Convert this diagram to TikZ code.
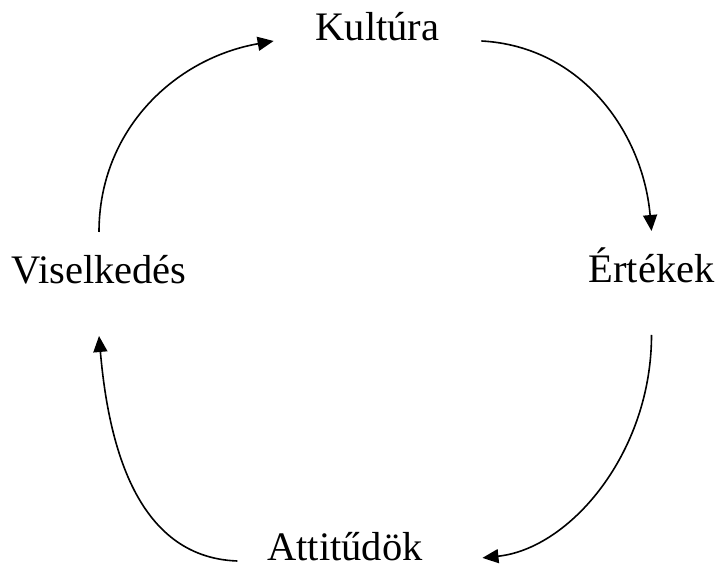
\documentclass[tikz,border=0pt]{standalone}
\usepackage{fontspec}
\setmainfont{Liberation Serif}
\usetikzlibrary{arrows.meta}
\begin{document}
\begin{tikzpicture}[x=1pt, y=1pt, >={Triangle[length=16pt,width=14pt]},
    lbl/.style={font=\fontsize{40.5}{48}\selectfont, anchor=base, inner sep=0pt,
      text height=28pt, text depth=0pt, outer xsep=0pt, outer ysep=24pt},
    arr/.style={->, line width=1.6pt}]
  \useasboundingbox (0,0) rectangle (720,564);
  \node[lbl, outer xsep=42pt] (kult)  at (377.5,523) {Kultúra};
  \node[lbl, text depth=28pt] (ert)   at (651.5,281) {Értékek};
  \node[lbl, outer xsep=30pt] (att)   at (345,3)     {Attitűdök};
  \node[lbl, text depth=28pt] (visel) at (99,280)    {Viselkedés};
  % korfolyamat
  \draw[arr] (visel.north) to[out=90, in=190] (kult.base west);
  \draw[arr] (kult.base east) to[out=-3, in=95] (ert.north);
  \draw[arr, shorten >=30pt] (ert.south) to[out=-90, in=6] (att.base east);
  \draw[arr] (att.base west) to[out=178, in=-85] (visel.south);
\end{tikzpicture}
\end{document}
